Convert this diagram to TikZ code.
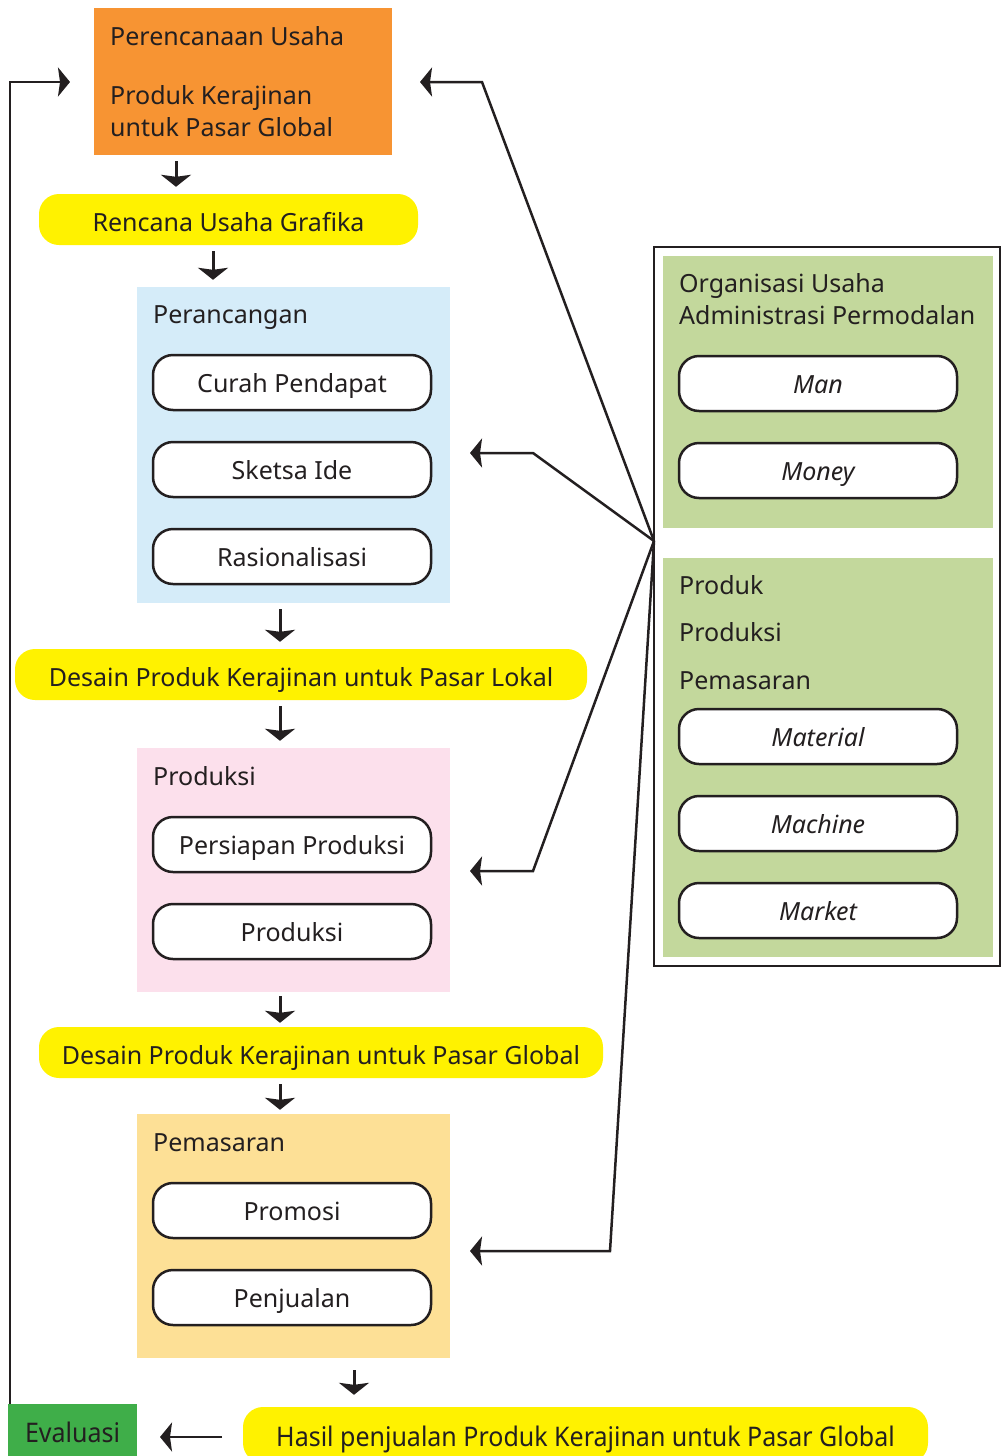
\documentclass[tikz,border=0pt]{standalone}
\usepackage{fontspec}
\setmainfont{Noto Sans}
\usetikzlibrary{arrows.meta}
\definecolor{txt}{HTML}{231F20}
\definecolor{orangeC}{HTML}{F79433}
\definecolor{yellowC}{HTML}{FFF200}
\definecolor{blueC}{HTML}{D5ECF9}
\definecolor{pinkC}{HTML}{FCE0EC}
\definecolor{tanC}{HTML}{FDE096}
\definecolor{greenP}{HTML}{C3D89C}
\definecolor{greenE}{HTML}{3FAE49}
\begin{document}
\begin{tikzpicture}[x=1pt,y=-1pt,
  every node/.style={font=\fontsize{25}{30}\selectfont, text=txt, inner sep=0pt},
  panel/.style={draw=none, minimum width=313pt, anchor=center},
  pill/.style={draw=txt, line width=2.5pt, fill=white, rounded corners=20pt,
    minimum width=278pt, minimum height=55pt, text height=24pt, text depth=4pt},
  band/.style={fill=yellowC, rounded corners=20pt, minimum height=51pt,
    text height=27pt, text depth=4pt},
  ttl/.style={anchor=base west},
  dn/.style={draw=txt, line width=3pt, -{Stealth[length=12pt,width=30pt,inset=2pt]},
    shorten <=6pt, shorten >=7pt},
  sa/.style={draw=txt, line width=2.5pt, -{Stealth[length=12pt,width=29pt,inset=2pt]}},
]
\clip (0,0) rectangle (1002,1456);
\useasboundingbox (0,0) rectangle (1002,1456);

% left column
\node[fill=orangeC, minimum width=298pt, minimum height=147pt] (orange) at (243,81.5) {};
\node[ttl] (o1) at (110,45) {Perencanaan Usaha};
\node[ttl] (o2) at (110,104) {Produk Kerajinan};
\node[ttl] (o3) at (110,136) {untuk Pasar Global};

\node[band, minimum width=379pt] (rencana) at (228.5,219.5) {Rencana Usaha Grafika};

\node[panel, fill=blueC, minimum height=316pt] (blue) at (293.5,445) {};
\node[ttl] (bt) at (153,323) {Perancangan};
\node[pill] (curah) at (292,382.5) {Curah Pendapat};
\node[pill] (sketsa) at (292,469.5) {Sketsa Ide};
\node[pill] (rasio) at (292,556.5) {Rasionalisasi};

\node[band, minimum width=572pt] (lokal) at (301,674.5) {Desain Produk Kerajinan untuk Pasar Lokal};

\node[panel, fill=pinkC, minimum height=244pt] (pink) at (293.5,870) {};
\node[ttl] (pt) at (153,785) {Produksi};
\node[pill] (persiapan) at (292,844.5) {Persiapan Produksi};
\node[pill] (produksi) at (292,931.5) {Produksi};

\node[band, minimum width=564pt] (global) at (321,1052.5) {Desain Produk Kerajinan untuk Pasar Global};

\node[panel, fill=tanC, minimum height=244pt] (tan) at (293.5,1236) {};
\node[ttl] (tt) at (153,1151) {Pemasaran};
\node[pill] (promosi) at (292,1210.5) {Promosi};
\node[pill] (penjualan) at (292,1297.5) {Penjualan};

\node[band, minimum width=685pt, minimum height=56pt] (hasil) at (585.5,1435)
  {\scalebox{1.0}[1.08]{Hasil penjualan Produk Kerajinan untuk Pasar Global}};
\node[fill=greenE, minimum width=129pt, minimum height=56pt, text height=24pt, text depth=4pt] (eval) at (72.5,1432)
  {\scalebox{1.0}[1.08]{Evaluasi}};

% right panel
\node[draw=txt, line width=2.5pt, minimum width=346pt, minimum height=719pt] (frame) at (827,606.5) {};
\node[fill=greenP, minimum width=330pt, minimum height=272pt] (g1) at (828,392) {};
\node[fill=greenP, minimum width=330pt, minimum height=399pt] (g2) at (828,757.5) {};
\node[ttl] (r1) at (679,292) {Organisasi Usaha};
\node[ttl] (r2) at (679,324) {Administrasi Permodalan};
\node[pill] (man) at (818,383.5) {\itshape Man};
\node[pill] (money) at (818,470.5) {\itshape Money};
\node[ttl] (r3) at (679,594) {Produk};
\node[ttl] (r4) at (679,641) {Produksi};
\node[ttl] (r5) at (679,689) {Pemasaran};
\node[pill] (material) at (818,736.5) {\itshape Material};
\node[pill] (machine) at (818,823.5) {\itshape Machine};
\node[pill] (market) at (818,910.5) {\itshape Market};

% down arrows
\draw[dn] (176,0 |- orange.south) -- (176,0 |- rencana.north);
\draw[dn] (213,0 |- rencana.south) -- (213,0 |- blue.north);
\draw[dn] (280,0 |- blue.south) -- (280,0 |- lokal.north);
\draw[dn] (280,0 |- lokal.south) -- (280,0 |- pink.north);
\draw[dn, shorten <=4pt, shorten >=4pt] (280,0 |- pink.south) -- (280,0 |- global.north);
\draw[dn, shorten <=6pt, shorten >=4pt] (280,0 |- global.south) -- (280,0 |- tan.north);
\draw[dn, shorten <=12pt, shorten >=12pt] (354,0 |- tan.south) -- (354,0 |- hasil.north);

% hasil -> evaluasi
\coordinate (hs) at (222,1437);
\coordinate (he) at (160,1437);
\draw[sa] (hs) -- (he);

% feedback
\coordinate (fbt) at (70,82);
\draw[sa] ([xshift=2pt]eval.north west) |- (fbt);

% hub connectors
\coordinate (hub) at (654,541);
\coordinate (t1) at (420,82);
\coordinate (t2) at (470,453);
\coordinate (t3) at (470,871);
\coordinate (t4) at (470,1251);
\draw[sa] (hub) -- (482,82) -- (t1);
\draw[sa] (hub) -- (533,453) -- (t2);
\draw[sa] (hub) -- (533,871) -- (t3);
\draw[sa] (hub) -- (610,1251) -- (t4);
\end{tikzpicture}
\end{document}
